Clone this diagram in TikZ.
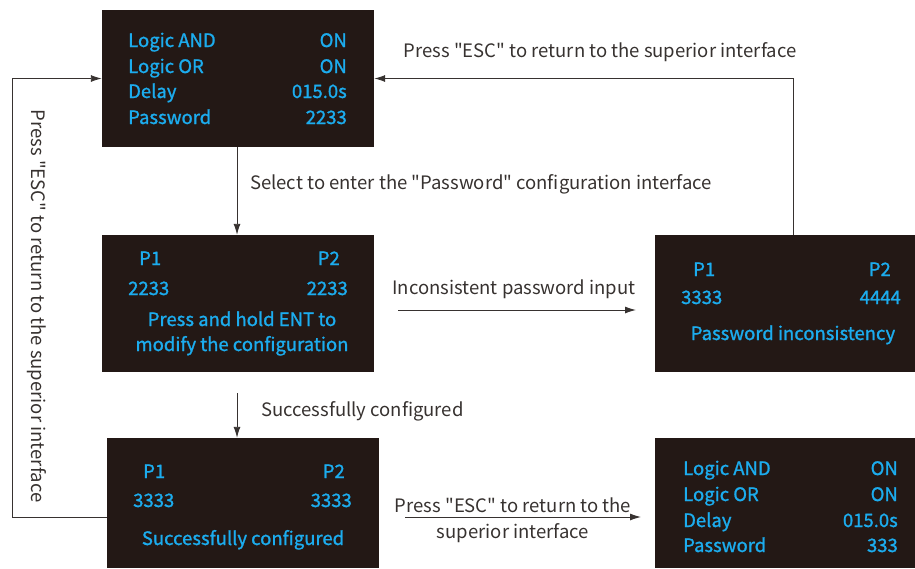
\documentclass[tikz,border=0pt]{standalone}
\usepackage{fontspec}
\newfontfamily\panelfont{Noto Sans CJK SC}
\newfontfamily\lcdfont{Noto Sans CJK SC}[FakeBold=1.2]
\usetikzlibrary{arrows.meta,calc}
\definecolor{screenbg}{RGB}{35,24,21}
\definecolor{screentxt}{RGB}{28,172,238}
\definecolor{linegray}{RGB}{55,50,48}

\begin{document}
\begin{tikzpicture}[x=1pt,y=1pt,
	screen/.style={fill=screenbg,draw=none,inner sep=0pt},
	lcd/.style={text=screentxt,font=\lcdfont\fontsize{18.5}{25}\selectfont,inner sep=0pt},
	note/.style={text=linegray,font=\panelfont\fontsize{18.5}{26}\selectfont,inner sep=0pt},
	flow/.style={draw=linegray,line width=0.9pt,-{Latex[length=11pt,width=7pt]}}]
	\useasboundingbox (0,0) rectangle (915,-568);

	% screens
	\node[screen,minimum width=272,minimum height=137] (main) at (238,-78.5) {};
	\node[screen,minimum width=272,minimum height=137] (pwd) at (238,-303.5) {};
	\node[screen,minimum width=272,minimum height=130] (ok) at (243,-503) {};
	\node[screen,minimum width=260,minimum height=137] (fail) at (785,-303.5) {};
	\node[screen,minimum width=260,minimum height=130] (back) at (785,-503) {};

	% main menu
	\node[lcd,anchor=base west] (m1) at (128,-47) {Logic AND};
	\node[lcd,anchor=base east] (m1v) at (347,-47) {ON};
	\node[lcd,anchor=base west] (m2) at (128,-73) {Logic OR};
	\node[lcd,anchor=base east] (m2v) at (347,-73) {ON};
	\node[lcd,anchor=base west] (m3) at (128,-98) {Delay};
	\node[lcd,anchor=base east] (m3v) at (347,-98) {015.0s};
	\node[lcd,anchor=base west] (m4) at (128,-124) {Password};
	\node[lcd,anchor=base east] (m4v) at (347,-124) {2233};

	% password setting
	\node[lcd,anchor=base west] (p1) at (139,-265) {P1};
	\node[lcd,anchor=base east] (p2) at (340,-265) {P2};
	\node[lcd,anchor=base west] (p1v) at (128,-295) {2233};
	\node[lcd,anchor=base east] (p2v) at (348,-295) {2233};
	\node[lcd,anchor=base] (hold) at (242,-326) {Press and hold ENT to};
	\node[lcd,anchor=base] (hold2) at (242,-351) {modify the configuration};

	% configured
	\node[lcd,anchor=base west] (c1) at (143,-478) {P1};
	\node[lcd,anchor=base east] (c2) at (345,-478) {P2};
	\node[lcd,anchor=base west] (c1v) at (133,-507) {3333};
	\node[lcd,anchor=base east] (c2v) at (352,-507) {3333};
	\node[lcd,anchor=base] (cmsg) at (243,-545) {Successfully configured};

	% inconsistent
	\node[lcd,anchor=base west] (f1) at (693,-276) {P1};
	\node[lcd,anchor=base east] (f2) at (891,-276) {P2};
	\node[lcd,anchor=base west] (f1v) at (681,-304) {3333};
	\node[lcd,anchor=base east] (f2v) at (901,-304) {4444};
	\node[lcd,anchor=base] (fmsg) at (793,-340) {Password inconsistency};

	% back to main menu
	\node[lcd,anchor=base west] (b1) at (683,-475) {Logic AND};
	\node[lcd,anchor=base east] (b1v) at (898,-475) {ON};
	\node[lcd,anchor=base west] (b2) at (683,-501) {Logic OR};
	\node[lcd,anchor=base east] (b2v) at (898,-501) {ON};
	\node[lcd,anchor=base west] (b3) at (683,-527) {Delay};
	\node[lcd,anchor=base east] (b3v) at (898,-527) {015.0s};
	\node[lcd,anchor=base west] (b4) at (683,-552) {Password};
	\node[lcd,anchor=base east] (b4v) at (898,-552) {333};

	% arrows
	\coordinate (inc-s) at (398,-310);
	\coordinate (inc-e) at (636,-310);
	\coordinate (esc-s) at (405,-517);
	\coordinate (esc-e) at (641,-517);
	\coordinate (ok-top) at (237,-393);
	\coordinate (left-rail) at (12,-517);

	\draw[flow] (main.south -| 237,0) -- (pwd.north -| 237,0);
	\draw[flow] (inc-s) -- (inc-e);
	\draw[flow] ($(fail.north)+(8,0)$) |- (main.east);
	\draw[flow] (ok-top) -- (ok.north -| ok-top);
	\draw[flow] (ok.west |- left-rail) -- (left-rail) |- (main.west);
	\draw[flow] (esc-s) -- (esc-e);

	% labels
	\node[note,anchor=base] (l-top) at (600,-57) {Press "ESC" to return to the superior interface};
	\node[note,anchor=base west] (l-sel) at (250,-189) {Select to enter the "Password" configuration interface};
	\node[note,anchor=base] (l-inc) at (514,-294) {Inconsistent password input};
	\node[note,anchor=base west] (l-ok) at (261,-416) {Successfully configured};
	\node[note,rotate=-90] (l-left) at (37,-306) {Press "ESC" to return to the superior interface};
	\node[note,anchor=base] (l-esc1) at (513,-512) {Press "ESC" to return to the};
	\node[note,anchor=base] (l-esc2) at (513,-538) {superior interface};
\end{tikzpicture}
\end{document}
